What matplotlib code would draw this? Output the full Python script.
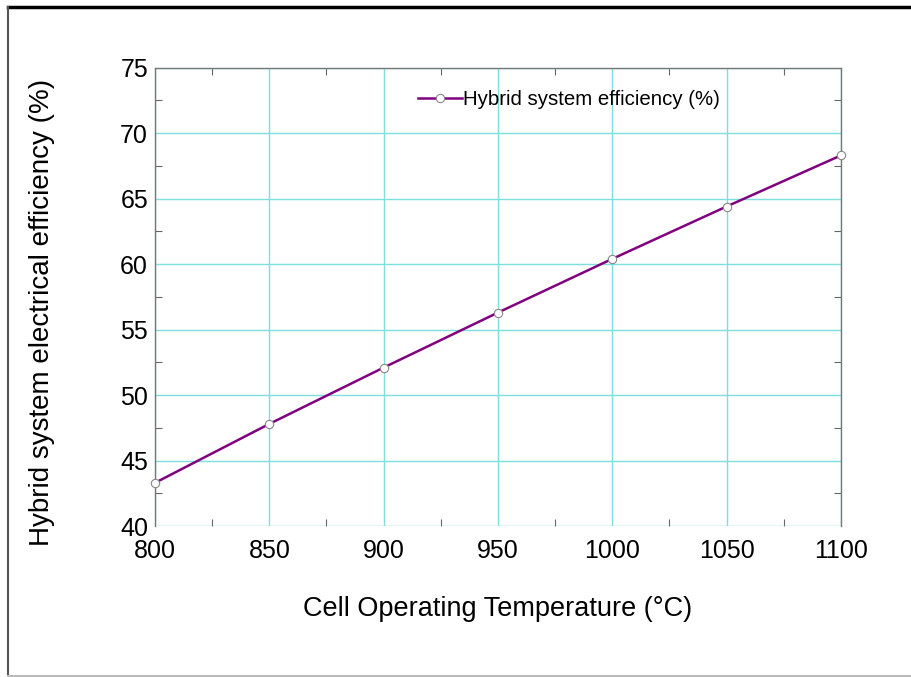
import matplotlib
matplotlib.use("Agg")
import matplotlib.pyplot as plt
from matplotlib.lines import Line2D
from matplotlib.ticker import MultipleLocator

plt.rcParams['font.family'] = ['Liberation Sans', 'DejaVu Sans']

# data
temperature = [800, 850, 900, 950, 1000, 1050, 1100]
efficiency = [43.3, 47.8, 52.1, 56.3, 60.4, 64.4, 68.3]

fig = plt.figure(figsize=(9.12, 6.77), dpi=100)
ax = fig.add_axes([0.170, 0.223, 0.752, 0.677])

ax.plot(temperature, efficiency, color='#800080', lw=1.8,
        marker='o', ms=6, mfc='white', mec='#888888', mew=0.8,
        label='Hybrid system efficiency (%)', clip_on=False, zorder=3)

ax.set_xlim(800, 1100)
ax.set_ylim(40, 75)
ax.xaxis.set_major_locator(MultipleLocator(50))
ax.yaxis.set_major_locator(MultipleLocator(5))
ax.xaxis.set_minor_locator(MultipleLocator(25))
ax.yaxis.set_minor_locator(MultipleLocator(2.5))
ax.grid(True, which='major', color='#7fdede', lw=1.0)
ax.set_axisbelow(True)

ax.tick_params(which='major', length=0, labelsize=18)
ax.tick_params(axis='x', which='major', pad=9)
ax.tick_params(axis='y', which='major', pad=5)
ax.tick_params(which='minor', direction='in', length=5, width=0.8,
               color='#666666', top=True, right=True)

for side in ['left', 'right', 'top']:
    ax.spines[side].set_color('#777777')
    ax.spines[side].set_linewidth(1.0)
ax.spines['bottom'].set_visible(False)

ax.set_xlabel('Cell Operating Temperature (°C)', fontsize=19.5, labelpad=24)
ax.set_ylabel('Hybrid system electrical efficiency (%)', fontsize=20)
ax.yaxis.set_label_coords(-0.146, 0.467)

ax.legend(loc='center left', bbox_to_anchor=(0.368, 0.930), frameon=False,
          fontsize=14.7, handlelength=2.15, handletextpad=0.05, borderpad=0)

# page border lines
fig.add_artist(Line2D([0.009, 1.0], [0.990, 0.990], color='black', lw=2.5))
fig.add_artist(Line2D([0.009, 0.009], [0.002, 0.990], color='#555555', lw=1.5))
fig.add_artist(Line2D([0.009, 1.0], [0.002, 0.002], color='#bbbbbb', lw=1.5))

fig.savefig('out.png', dpi=100)
